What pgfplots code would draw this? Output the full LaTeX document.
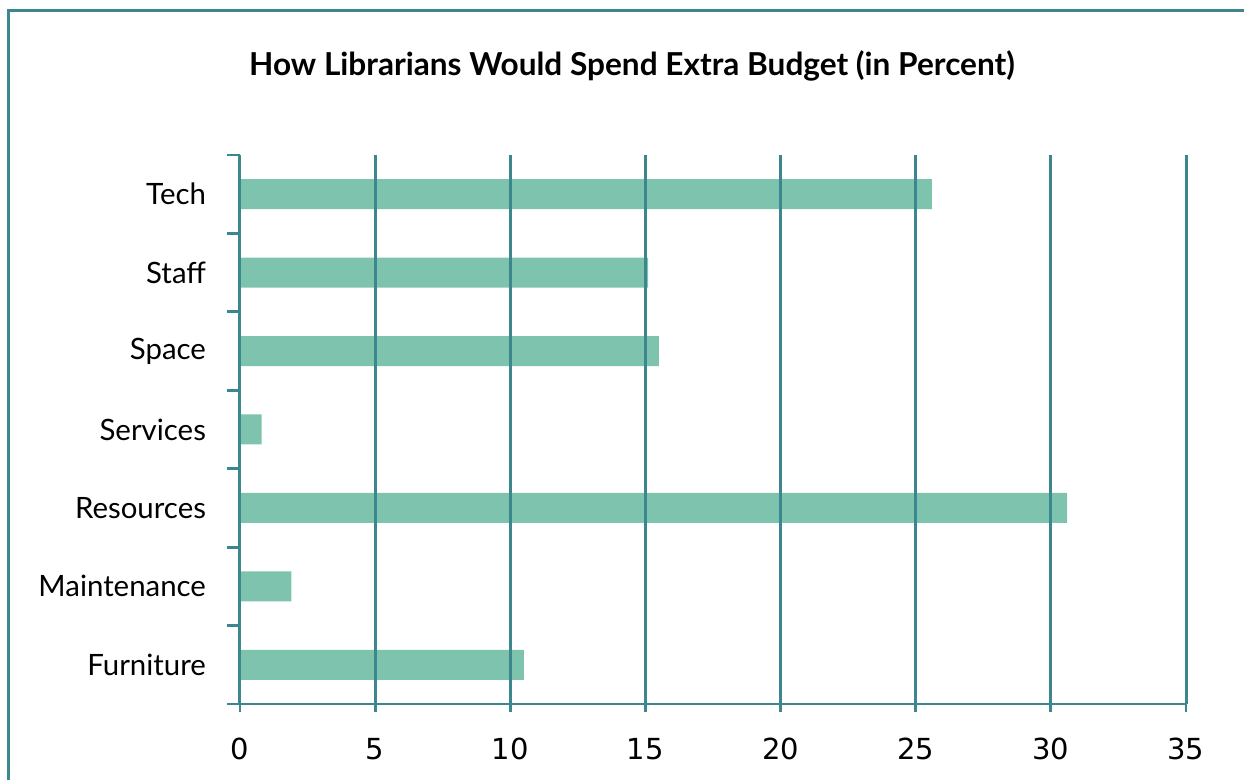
\documentclass[border=0pt]{standalone}
\usepackage{fontspec}
\setmainfont{Lato}
\newfontfamily\dejavu{DejaVu Sans}
\usepackage{pgfplots}
\pgfplotsset{compat=1.18}
\definecolor{barfill}{HTML}{7DC3AE}
\definecolor{gridteal}{HTML}{3C8690}

\begin{document}
\begin{tikzpicture}[x=1pt,y=1pt]
\useasboundingbox (0,0) rectangle (622,390);
\draw[gridteal, line width=1.5pt] (4.25,-5) -- (4.25,384.5) -- (630,384.5);
\node[font=\bfseries\fontsize{15.8}{18}\selectfont] at (316,357)
  {How Librarians Would Spend Extra Budget (in Percent)};
\begin{axis}[
  at={(120pt,38pt)}, anchor=south west,
  scale only axis, width=473pt, height=274.5pt,
  xbar, bar width=15pt,
  xmin=0, xmax=35, ymin=-0.5, ymax=6.5,
  axis x line=bottom, axis y line=left,
  axis line style={-, draw=gridteal, line width=1.4pt},
  xtick={0,5,...,35},
  ytick={0,...,6},
  yticklabels={Furniture,Maintenance,Resources,Services,Space,Staff,Tech},
  minor ytick={-0.5,0.5,...,6.5},
  tick align=outside,
  major tick length=4pt, minor tick length=6.5pt,
  x tick style={draw=gridteal, line width=1.4pt},
  major y tick style={draw=none},
  minor y tick style={draw=gridteal, line width=1.4pt},
  xmajorgrids,
  grid style={draw=gridteal, line width=1.5pt},
  axis on top,
  /pgf/number format/assume math mode=true,
  xticklabel style={font=\dejavu\fontsize{14.5}{16}\selectfont, yshift=-9.5pt},
  yticklabel style={font=\fontsize{14.7}{17}\selectfont, xshift=-9.5pt},
]
\addplot[fill=barfill, draw=none] coordinates {
  (10.5,0) (1.9,1) (30.6,2) (0.8,3) (15.5,4) (15.1,5) (25.6,6)};
\end{axis}
\end{tikzpicture}
\end{document}
